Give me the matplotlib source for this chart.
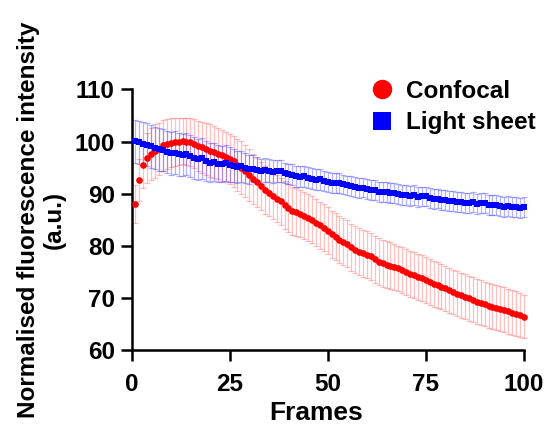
import matplotlib
matplotlib.use("Agg")
import matplotlib.pyplot as plt
from matplotlib.lines import Line2D
import numpy as np

plt.rcParams['font.family'] = ['Liberation Sans', 'DejaVu Sans']
plt.rcParams['font.weight'] = 'bold'

# Frames 1..100
frames = np.arange(1, 101)

confocal_mean = [
    88.0, 92.7, 95.6, 96.9, 97.7, 98.2, 98.6, 99.3, 99.6, 99.8,
    100.0, 100.0, 100.1, 100.0, 99.9, 99.6, 99.2, 98.9, 98.6, 98.3,
    98.0, 97.7, 97.4, 97.1, 96.7, 96.2, 95.6, 95.0, 94.3, 93.6,
    92.9, 92.2, 91.5, 90.8, 90.2, 89.6, 89.1, 88.6, 87.8, 87.2,
    86.8, 86.5, 86.2, 85.8, 85.4, 85.0, 84.5, 84.0, 83.5, 82.9,
    82.3, 81.8, 81.2, 80.8, 80.4, 79.8, 79.3, 78.9, 78.6, 78.3,
    78.0, 77.5, 77.0, 76.7, 76.4, 76.2, 76.0, 75.7, 75.4, 75.1,
    74.7, 74.4, 74.1, 73.8, 73.5, 73.1, 72.8, 72.5, 72.2, 71.9,
    71.5, 71.2, 70.9, 70.6, 70.3, 70.0, 69.7, 69.3, 69.1, 68.9,
    68.6, 68.4, 68.2, 68.0, 67.8, 67.5, 67.2, 67.0, 66.8, 66.5,
]
confocal_sd = [
    3.6, 4.0, 4.5, 4.8, 5.0, 5.1, 5.0, 4.9, 4.8, 4.7,
    4.6, 4.5, 4.4, 4.5, 4.6, 4.7, 4.8, 4.9, 5.0, 5.0,
    5.0, 4.9, 4.9, 4.8, 4.8, 4.9, 5.0, 5.1, 5.0, 4.9,
    4.8, 4.7, 4.6, 4.6, 4.5, 4.5, 4.5, 4.5, 4.6, 4.6,
    4.6, 4.6, 4.5, 4.5, 4.5, 4.5, 4.5, 4.5, 4.5, 4.5,
    4.5, 4.5, 4.5, 4.5, 4.5, 4.5, 4.5, 4.5, 4.5, 4.5,
    4.5, 4.5, 4.5, 4.5, 4.5, 4.5, 4.4, 4.4, 4.4, 4.4,
    4.4, 4.4, 4.4, 4.4, 4.4, 4.4, 4.4, 4.4, 4.3, 4.3,
    4.3, 4.3, 4.3, 4.3, 4.3, 4.3, 4.3, 4.3, 4.3, 4.3,
    4.3, 4.3, 4.3, 4.3, 4.3, 4.3, 4.3, 4.3, 4.2, 4.2,
]

lightsheet_mean = [
    100.1, 99.9, 99.6, 99.4, 99.1, 98.8, 98.5, 98.4, 98.0, 97.8,
    97.9, 97.6, 97.5, 97.6, 97.3, 96.9, 96.6, 96.8, 96.3, 96.0,
    96.1, 95.8, 95.7, 95.9, 95.6, 95.4, 95.2, 95.3, 94.9, 94.7,
    94.8, 94.5, 94.3, 94.5, 94.4, 94.2, 94.4, 94.3, 94.0, 93.8,
    93.7, 93.4, 93.3, 93.4, 93.1, 92.9, 92.7, 92.8, 92.5, 92.3,
    92.1, 92.0, 92.1, 91.8, 91.6, 91.5, 91.3, 91.1, 91.2, 90.9,
    90.7, 90.8, 90.4, 90.4, 90.3, 90.1, 90.2, 89.9, 89.8, 89.8,
    89.6, 89.7, 89.4, 89.5, 89.5, 89.2, 89.0, 89.1, 88.8, 88.8,
    88.6, 88.7, 88.4, 88.5, 88.3, 88.2, 88.4, 88.1, 88.2, 88.2,
    87.9, 87.8, 87.9, 87.6, 87.5, 87.6, 87.4, 87.5, 87.3, 87.4,
]
lightsheet_sd = [
    4.1, 4.1, 4.1, 4.1, 4.1, 4.1, 4.1, 4.1, 4.1, 4.1,
    4.1, 4.1, 4.0, 4.0, 4.0, 4.0, 3.9, 3.9, 3.9, 3.8,
    3.7, 3.6, 3.5, 3.4, 3.3, 3.2, 3.1, 3.0, 2.9, 2.8,
    2.6, 2.5, 2.4, 2.3, 2.2, 2.2, 2.1, 2.1, 2.0, 2.0,
    2.0, 2.0, 2.0, 2.0, 2.0, 2.0, 2.0, 2.0, 1.9, 1.9,
    1.9, 1.9, 1.9, 1.9, 1.9, 1.9, 1.9, 1.9, 1.9, 1.9,
    1.9, 1.9, 1.9, 1.9, 1.9, 1.9, 1.9, 1.9, 1.9, 1.9,
    1.9, 1.9, 1.9, 1.9, 1.9, 1.9, 1.9, 1.9, 1.9, 1.9,
    1.9, 1.9, 1.9, 1.9, 1.9, 1.9, 1.9, 1.9, 1.9, 1.9,
    1.9, 1.9, 1.9, 1.9, 1.9, 1.9, 1.9, 1.9, 1.9, 1.9,
]

fig = plt.figure(figsize=(5.48, 4.30), dpi=100)
ax = fig.add_axes([0.240, 0.185, 0.716, 0.607])

# error bars first, then the points on top
ax.errorbar(frames, confocal_mean, yerr=confocal_sd, fmt='none',
            ecolor=(1.0, 0.0, 0.0, 0.25), elinewidth=0.9, capsize=2.2,
            capthick=0.9, clip_on=False, zorder=2)
ax.errorbar(frames, lightsheet_mean, yerr=lightsheet_sd, fmt='none',
            ecolor=(0.0, 0.0, 1.0, 0.3), elinewidth=0.9, capsize=2.2,
            capthick=0.9, clip_on=False, zorder=3)
ax.plot(frames, confocal_mean, 'o', color='#ff0000', markersize=4.8,
        markeredgewidth=0, clip_on=False, zorder=4)
ax.plot(frames, lightsheet_mean, 's', color='#0000ff', markersize=4.4,
        markeredgewidth=0, clip_on=False, zorder=5)

ax.set_xlim(0, 100)
ax.set_ylim(60, 110)
ax.set_xticks([0, 25, 50, 75, 100])
ax.set_yticks([60, 70, 80, 90, 100, 110])

for side in ['top', 'right']:
    ax.spines[side].set_visible(False)
for side in ['left', 'bottom']:
    ax.spines[side].set_linewidth(1.8)
ax.tick_params(axis='both', length=8, width=1.8, labelsize=17.5)
ax.tick_params(axis='x', pad=8)
ax.tick_params(axis='y', pad=4)
for lab in ax.get_xticklabels() + ax.get_yticklabels():
    lab.set_fontweight('bold')

ax.set_xlabel('Frames', fontsize=19, fontweight='bold')
ax.xaxis.set_label_coords(0.47, -0.195)
ax.set_ylabel('Normalised fluorescence intensity\n(a.u.)', fontsize=17.5,
              fontweight='bold', labelpad=6, linespacing=1.15)

handles = [
    Line2D([], [], marker='o', linestyle='none', color='#ff0000',
           markersize=14, markeredgewidth=0, label='Confocal'),
    Line2D([], [], marker='s', linestyle='none', color='#0000ff',
           markersize=12.5, markeredgewidth=0, label='Light sheet'),
]
fig.legend(handles=handles, loc='upper left', bbox_to_anchor=(0.635, 0.865),
           frameon=False, prop={'weight': 'bold', 'size': 17.5},
           handletextpad=0.5, labelspacing=0.35, handlelength=1.0)

fig.savefig('out.png', dpi=100)
